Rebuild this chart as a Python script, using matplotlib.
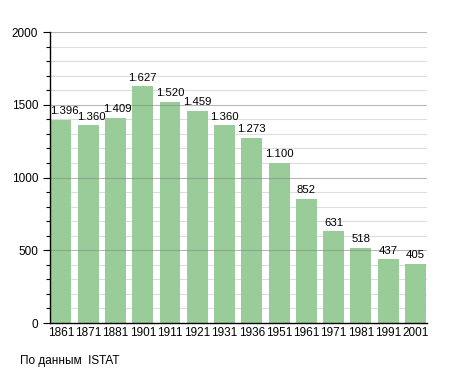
import matplotlib.pyplot as plt
from matplotlib.ticker import MultipleLocator

plt.rcParams['font.family'] = ['Liberation Sans', 'DejaVu Sans']

years = ['1861', '1871', '1881', '1901', '1911', '1921', '1931', '1936',
         '1951', '1961', '1971', '1981', '1991', '2001']
population = [1396, 1360, 1409, 1627, 1520, 1459, 1360, 1273,
              1100, 852, 631, 518, 437, 405]
labels = ['1.396', '1.360', '1.409', '1.627', '1.520', '1.459', '1.360', '1.273',
          '1.100', '852', '631', '518', '437', '405']

fig = plt.figure(figsize=(4.55, 3.73), dpi=100)
ax = fig.add_axes([0.110, 0.134, 0.828, 0.780])

x = range(len(years))
ax.bar(x, population, width=0.77, color='#99cc99', zorder=2)
nudge = {0: 0.14, 1: 0.1, 2: 0.06}
for i, v in enumerate(population):
    ax.text(i + nudge.get(i, 0), v + 25, labels[i], ha='center', va='bottom',
            fontsize=8.2, zorder=4)

ax.set_xlim(-0.4, 13.42)
ax.set_ylim(0, 2000)
ax.set_xticks(list(x))
ax.set_xticklabels(years, fontsize=8.5)
ax.yaxis.set_major_locator(MultipleLocator(500))
ax.yaxis.set_minor_locator(MultipleLocator(100))
ax.tick_params(axis='y', labelsize=8.5, length=5, width=0.8)
ax.tick_params(axis='y', which='minor', length=3, width=0.8)
ax.tick_params(axis='x', length=0, pad=3)
ax.grid(axis='y', which='minor', color='#dddddd', linewidth=0.8, zorder=0)
for yv in range(500, 2001, 500):
    ax.axhline(yv, color='#888888', alpha=0.6, linewidth=0.8, zorder=3)
for s in ['top', 'right']:
    ax.spines[s].set_visible(False)
ax.spines['left'].set_linewidth(1)
ax.spines['bottom'].set_linewidth(1)
ax.spines['left'].set_zorder(5)
ax.spines['bottom'].set_zorder(5)

fig.text(0.044, 0.015, 'По данным  ISTAT', fontsize=8.5, ha='left', va='bottom')

fig.savefig('out.png', dpi=100)
